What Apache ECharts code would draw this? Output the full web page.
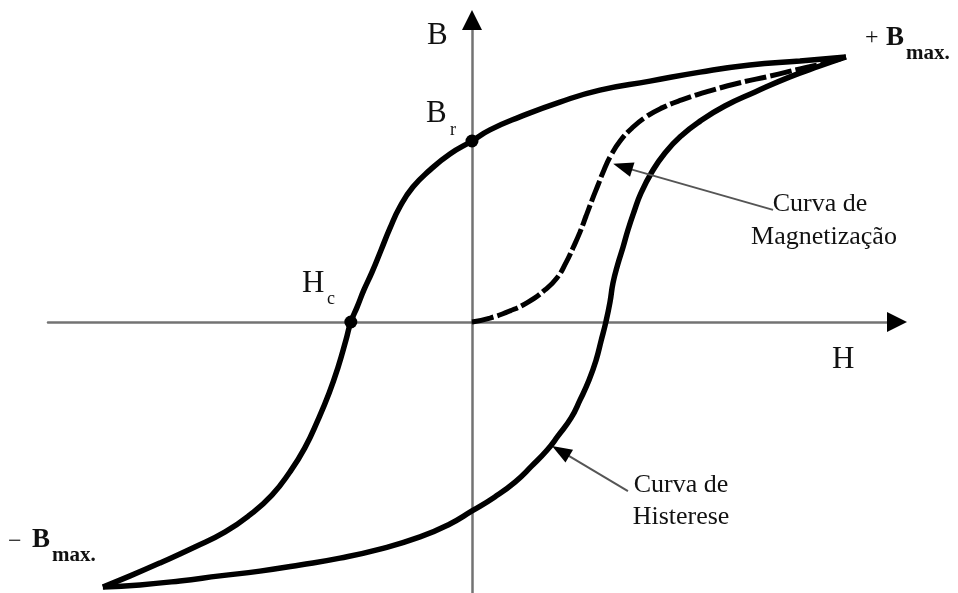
<!DOCTYPE html>
<html>
<head>
<meta charset="utf-8">
<script src="https://cdn.jsdelivr.net/npm/echarts@6/dist/echarts.min.js"></script>
<style>
  html, body { margin: 0; padding: 0; background: #fff; }
  #main { width: 958px; height: 593px; }
</style>
</head>
<body>
<div id="main"></div>
<script>
// curva de histerese, ramo descendente (+Bmax -> -Bmax), H e B normalizados
const upperBranch = [
  [1, 1], [0.877, 0.985], [0.743, 0.97], [0.61, 0.943], [0.476, 0.909],
  [0.342, 0.875], [0.235, 0.83], [0.128, 0.774], [0.048, 0.725], [0, 0.683],
  [-0.059, 0.634], [-0.112, 0.574], [-0.158, 0.509], [-0.193, 0.434], [-0.219, 0.355],
  [-0.243, 0.272], [-0.267, 0.189], [-0.289, 0.121], [-0.307, 0.057], [-0.324, 0],
  [-0.337, -0.068], [-0.358, -0.17], [-0.382, -0.268], [-0.412, -0.37], [-0.447, -0.475],
  [-0.487, -0.566], [-0.535, -0.653], [-0.594, -0.728], [-0.66, -0.792], [-0.741, -0.849],
  [-0.834, -0.909], [-0.914, -0.958], [-0.987, -1]
];
// ramo ascendente (-Bmax -> +Bmax)
const lowerBranch = [
  [-0.987, -1], [-0.888, -0.992], [-0.781, -0.977], [-0.674, -0.958], [-0.567, -0.94],
  [-0.46, -0.917], [-0.353, -0.891], [-0.246, -0.857], [-0.139, -0.811], [-0.059, -0.762],
  [0, -0.713], [0.061, -0.66], [0.115, -0.604], [0.16, -0.543], [0.201, -0.483],
  [0.23, -0.43], [0.265, -0.362], [0.289, -0.294], [0.313, -0.219], [0.332, -0.143],
  [0.345, -0.072], [0.358, 0], [0.369, 0.075], [0.377, 0.147], [0.39, 0.219],
  [0.404, 0.283], [0.417, 0.347], [0.433, 0.415], [0.452, 0.487], [0.481, 0.566],
  [0.516, 0.638], [0.559, 0.702], [0.61, 0.758], [0.676, 0.815], [0.757, 0.868],
  [0.85, 0.925], [0.93, 0.966], [1, 1]
];
// curva de magnetizacao inicial
const magCurve = [
  [0, 0], [0.048, 0.015], [0.102, 0.042], [0.15, 0.075], [0.195, 0.121],
  [0.227, 0.166], [0.251, 0.223], [0.27, 0.279], [0.289, 0.34], [0.305, 0.4],
  [0.321, 0.46], [0.337, 0.517], [0.353, 0.574], [0.372, 0.63], [0.396, 0.683],
  [0.428, 0.732], [0.465, 0.774], [0.508, 0.808], [0.561, 0.838], [0.636, 0.872],
  [0.714, 0.902], [0.797, 0.928], [0.877, 0.955], [0.944, 0.977], [1, 1]
];
// pontos notaveis: Br e Hc
const keyPoints = [[0, 0.683], [-0.324, 0]];
// setas das legendas [cauda, base da ponta, centro da ponta]
const magArrow = [[0.805, 0.423], [0.428, 0.575], [0.403, 0.586]];
const histArrow = [[0.417, -0.638], [0.26, -0.506], [0.237, -0.487]];

const X_MIN = -1.1337, X_MAX = 1.1364;
const Y_MIN = -1.0226, Y_MAX = 1.1396;

const serif = '"Liberation Serif", "DejaVu Serif", serif';
const ink = '#111';

function txt(text, x, y, size, opts) {
  opts = opts || {};
  return {
    type: 'text', x: x, y: y, silent: true, z: 10,
    style: {
      text: text,
      font: (opts.bold ? 'bold ' : '') + size + 'px ' + serif,
      fill: ink,
      textAlign: opts.align || 'left',
      textVerticalAlign: 'bottom'
    }
  };
}

function arrowLines(a) {
  return [
    [{ coord: a[0], symbol: 'none' },
     { coord: a[1], symbol: 'none' }],
    [{ coord: a[1], symbol: 'none', lineStyle: { color: '#000', width: 2 } },
     { coord: a[2], symbol: 'triangle', symbolSize: [15, 20], lineStyle: { color: '#000', width: 2 } }]
  ];
}

const axisCommon = {
  type: 'value',
  axisTick: { show: false },
  axisLabel: { show: false },
  splitLine: { show: false },
  axisLine: {
    onZero: true,
    symbol: ['none', 'triangle'],
    symbolSize: [20, 20],
    lineStyle: { color: '#000', opacity: 0.55, width: 2.5 }
  }
};

const curveStyle = { color: '#000', width: 5.5 };

let myChart = echarts.init(document.getElementById('main'));
let option = {
  backgroundColor: '#fff',
  animation: false,
  grid: { left: 48, right: 61, top: 20, bottom: 0 },
  xAxis: Object.assign({}, axisCommon, { min: X_MIN, max: X_MAX }),
  yAxis: Object.assign({}, axisCommon, { min: Y_MIN, max: Y_MAX }),
  series: [
    {
      name: 'Histerese desc',
      type: 'line',
      data: upperBranch,
      smooth: 0.5,
      showSymbol: false,
      lineStyle: curveStyle,
      z: 3
    },
    {
      name: 'Histerese asc',
      type: 'line',
      data: lowerBranch,
      smooth: 0.5,
      showSymbol: false,
      lineStyle: curveStyle,
      z: 3
    },
    {
      name: 'Magnetizacao',
      type: 'line',
      data: magCurve,
      smooth: 0.5,
      showSymbol: false,
      lineStyle: { color: '#000', width: 5, type: [22, 4] },
      z: 3,
      markLine: {
        silent: true,
        animation: false,
        label: { show: false },
        lineStyle: { color: '#555', width: 2, type: 'solid' },
        data: arrowLines(magArrow).concat(arrowLines(histArrow))
      }
    },
    {
      name: 'Pontos',
      type: 'scatter',
      data: keyPoints,
      symbolSize: 13,
      itemStyle: { color: '#000', opacity: 1 },
      z: 4
    }
  ],
  graphic: [
    txt('B', 427, 51, 31),
    txt('B', 426, 129, 31),
    txt('r', 450, 139, 18),
    txt('H', 302, 299, 31),
    txt('c', 327, 308, 18),
    txt('H', 832, 375, 31),
    txt('+', 865, 50, 24),
    txt('B', 886, 52, 27, { bold: true }),
    txt('max.', 906, 64, 21, { bold: true }),
    txt('\u2212', 8, 554, 24),
    txt('B', 32, 554, 27, { bold: true }),
    txt('max.', 52, 566, 21, { bold: true }),
    txt('Curva de', 820, 217, 26, { align: 'center' }),
    txt('Magnetização', 824, 250, 26, { align: 'center' }),
    txt('Curva de', 681, 498, 26, { align: 'center' }),
    txt('Histerese', 681, 530, 26, { align: 'center' })
  ]
};
myChart.setOption(option, true);
</script>
</body>
</html>
